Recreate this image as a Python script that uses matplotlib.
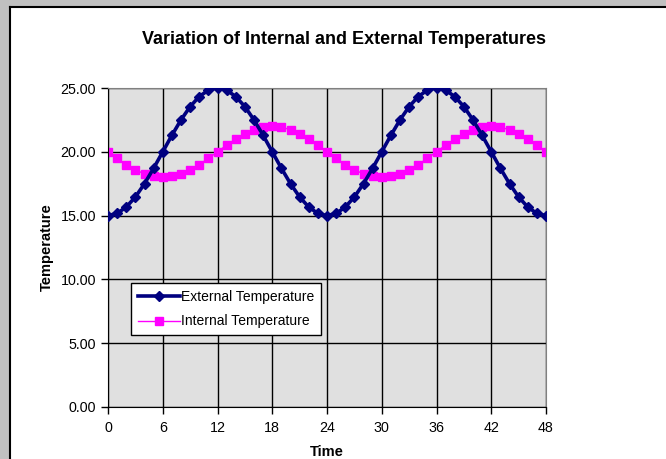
import matplotlib.pyplot as plt
from matplotlib.patches import Rectangle

plt.rcParams['font.family'] = ['Liberation Sans', 'DejaVu Sans']

# hourly readings over two days
time_hours = list(range(49))
external_day = [15.00, 15.17, 15.67, 16.46, 17.50, 18.71, 20.00, 21.29, 22.50, 23.54,
                24.33, 24.83, 25.00, 24.83, 24.33, 23.54, 22.50, 21.29, 20.00, 18.71,
                17.50, 16.46, 15.67, 15.17]
internal_day = [20.00, 19.48, 19.00, 18.59, 18.27, 18.07, 18.00, 18.07, 18.27, 18.59,
                19.00, 19.48, 20.00, 20.52, 21.00, 21.41, 21.73, 21.93, 22.00, 21.93,
                21.73, 21.41, 21.00, 20.52]
external_temp = external_day + external_day + [15.00]
internal_temp = internal_day + internal_day + [20.00]
x_ticks = [0, 6, 12, 18, 24, 30, 36, 42, 48]
y_ticks = [0, 5, 10, 15, 20, 25]

navy = '#000080'
magenta = '#ff00ff'

fig = plt.figure(figsize=(6.66, 4.59), dpi=100)
fig.patch.set_facecolor('white')

# grey window frame on top and left
fig.patches.append(Rectangle((0, 1 - 6/459), 1, 6/459, transform=fig.transFigure,
                             facecolor='#c0c0c0', edgecolor='none', zorder=0))
fig.patches.append(Rectangle((0, 0), 9/666, 1, transform=fig.transFigure,
                             facecolor='#c0c0c0', edgecolor='none', zorder=0))
fig.lines.append(plt.Line2D([9.5/666, 1], [1 - 6.5/459, 1 - 6.5/459], transform=fig.transFigure,
                            color='black', lw=1.5))
fig.lines.append(plt.Line2D([9.5/666, 9.5/666], [0, 1 - 6.5/459], transform=fig.transFigure,
                            color='black', lw=1.5))

ax = fig.add_axes([108/666, 1 - 407/459, (546 - 108)/666, (407 - 88)/459])
ax.set_facecolor('#e0e0e0')

ax.plot(time_hours, external_temp, color=navy, lw=2.6, marker='D', markersize=4.8,
        label='External Temperature', zorder=3)
ax.plot(time_hours, internal_temp, color=magenta, lw=1, marker='s', markersize=5.2,
        label='Internal Temperature', zorder=2)

ax.set_xlim(0, 48)
ax.set_ylim(0, 25)
ax.set_xticks(x_ticks)
ax.set_yticks(y_ticks)
ax.set_yticklabels([f'{v:.2f}' for v in y_ticks])
ax.tick_params(direction='out', length=5, width=1, labelsize=10.3, color='black')
ax.tick_params(axis='x', pad=5)
ax.grid(True, color='black', lw=1)
ax.set_axisbelow(True)

for side in ['top', 'right']:
    ax.spines[side].set_color('#808080')
for side in ['left', 'bottom']:
    ax.spines[side].set_color('black')

fig.text(344/666, 1 - 40/459, 'Variation of Internal and External Temperatures',
         fontsize=13, fontweight='bold', ha='center', va='center')
ax.set_xlabel('Time', fontsize=10.5, fontweight='bold', labelpad=7)
ax.set_ylabel('Temperature', fontsize=10.5, fontweight='bold', labelpad=5)

leg = ax.legend(loc='upper left', bbox_to_anchor=(23/438, (407 - 283)/319), fontsize=10,
                frameon=True, fancybox=False, handlelength=3.0, handletextpad=0.1,
                borderpad=0.5, labelspacing=0.75, borderaxespad=0)
leg.get_frame().set_edgecolor('black')
leg.get_frame().set_linewidth(1)
leg.get_frame().set_facecolor('white')
leg.get_frame().set_alpha(1)

fig.savefig('out.png', dpi=100)
